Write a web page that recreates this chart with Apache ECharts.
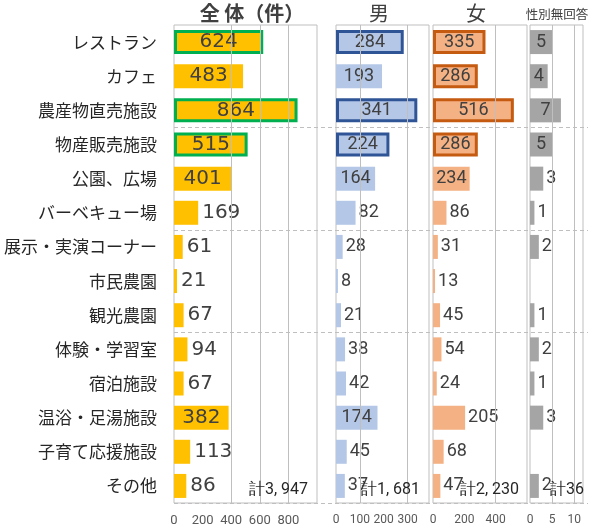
<!DOCTYPE html>
<html><head><meta charset="utf-8">
<script src="https://cdn.jsdelivr.net/npm/echarts@6/dist/echarts.min.js"></script>
<style>html,body{margin:0;padding:0;background:#fff}#c{width:600px;height:530px}</style>
</head><body><div id="c"></div>
<script>
const categories = ['レストラン','カフェ','農産物直売施設','物産販売施設','公園、広場','バーベキュー場','展示・実演コーナー','市民農園','観光農園','体験・学習室','宿泊施設','温浴・足湯施設','子育て応援施設','その他'];
const totalValues  = [624,483,864,515,401,169,61,21,67,94,67,382,113,86];
const maleValues   = [284,193,341,224,164,82,28,8,21,38,42,174,45,37];
const femaleValues = [335,286,516,286,234,86,31,13,45,54,24,205,68,47];
const noAnswerValues = [5,4,7,5,3,1,2,0,1,2,1,3,0,2];
const panelTitles = ['全 体（件）','男','女','性別無回答'];
const highlightTotal = [0,2,3];
const highlightMale = [0,2,3];
const highlightFemale = [0,1,2,3];
const gridTotal = [400,600,800];
const gridMale = [100,300];
const gridFemale = [400];
const gridNoAnswer = [5,10];
const groupBoundaries = [3,6,9];

const chart = echarts.init(document.getElementById('c'), null, {renderer:'canvas'});
const narrow = 'Roboto,"Liberation Sans",sans-serif';
const grids = [
  {left:174, top:25, width:143, height:478},
  {left:336, top:25, width:93, height:478},
  {left:433, top:25, width:94, height:478},
  {left:530, top:25, width:53, height:478},
  {left:174, top:25, width:414, height:478}
];
const axisMax = [1000, 390, 600, 12];
const axisInt = [200, 100, 200, 5];
const labelFont = [20, 18, 18, 18];
const labelFam = ['"DejaVu Sans",sans-serif', narrow, narrow, narrow];
const thresholds = [300, 150, 220, 4];
const colors = ['#FFC000','#B4C7E7','#F4B183','#A5A5A5'];
const borders = ['#00B050','#2F5597','#C55A11',null];
const highlights = [highlightTotal, highlightMale, highlightFemale, []];
const gridLines = [gridTotal, gridMale, gridFemale, gridNoAnswer];
const values = [totalValues, maleValues, femaleValues, noAnswerValues];

const xAxis = [], yAxis = [], series = [];
for (let g=0; g<4; g++) {
  xAxis.push({type:'value', gridIndex:g, min:0, max:axisMax[g], interval:axisInt[g],
    splitLine:{show:false}, axisLine:{show:false}, axisTick:{show:false},
    axisLabel:{color:'#595959', fontSize:g===0?13:12, fontFamily:narrow, margin:11,
      formatter: v => (v===axisMax[g]) ? '' : v,
      showMaxLabel: false}});
  yAxis.push({type:'category', gridIndex:g, data:categories, inverse:true,
    axisLine:{show:false}, axisTick:{show:false}, splitLine:{show:false},
    axisLabel:{show:g===0, color:'#262626', fontSize:17, margin:17,
      fontFamily:'"Noto Sans CJK JP",sans-serif'}});
  series.push({type:'bar', xAxisIndex:g, yAxisIndex:g, data:values[g], barWidth:24, barGap:'-100%',
    itemStyle:{color:'rgba(0,0,0,0)'}, silent:true, z:1,
    markLine:{silent:true, symbol:'none', label:{show:false},
      lineStyle:{color:'#BFBFBF', type:'solid', width:1},
      data: gridLines[g].map(v=>({xAxis:v}))}});
  const data = values[g].map((v,i)=>{
    const hl = highlights[g].includes(i);
    return {value:v,
      itemStyle: hl ? {borderColor:borders[g], borderWidth:3} : {borderWidth:0},
      label:{position: v>=thresholds[g] ? 'inside' : 'right', distance:g===0?4:3}};
  });
  series.push({type:'bar', xAxisIndex:g, yAxisIndex:g, data:data, barWidth:24, barGap:'-100%', z:3,
    itemStyle:{color:colors[g]},
    label:{show:true, color:'#404040', fontSize:labelFont[g], fontFamily:labelFam[g],
      formatter: p => p.value===0 ? '' : String(p.value)}});
}
xAxis.push({type:'value', gridIndex:4, show:false, min:0, max:1});
yAxis.push({type:'category', gridIndex:4, data:categories, inverse:true, axisLine:{show:false},
  axisTick:{show:false}, axisLabel:{show:false},
  splitLine:{show:true, interval:(i)=>groupBoundaries.includes(i),
    lineStyle:{color:'#BFBFBF', type:[4,3], width:1}}});
series.push({type:'bar', xAxisIndex:4, yAxisIndex:4, data:categories.map(()=>null), silent:true});

const sum = a => a.reduce((s,v)=>s+v,0);
const fmt = n => '計' + n.toLocaleString('en-US').replace(/,/g, ', ');
const totals = [sum(totalValues), sum(maleValues), sum(femaleValues), sum(noAnswerValues)];
const totalRight = [308, 420, 519, 584];
const titleCenter = [252, 379, 476, 557];
const graphic = [];
for (let g=0; g<4; g++) {
  graphic.push({type:'text', x: totalRight[g], y: 490, z:10,
    style:{text: fmt(totals[g]), fill:'#262626', fontSize:16, fontFamily:narrow,
      textAlign:'right', textVerticalAlign:'middle'}});
  graphic.push({type:'text', x: titleCenter[g], y: g===3 ? 14 : 13, z:10,
    style:{text: panelTitles[g], fill:'#404040', fontSize: g===3 ? 12.5 : 20,
      fontWeight: g===0 ? 'bold' : 'normal',
      fontFamily:'"Noto Sans CJK JP",sans-serif', textAlign:'center', textVerticalAlign:'middle'}});
}

chart.setOption({
  backgroundColor:'#fff',
  animation:false,
  grid: grids.map((gr,i)=>Object.assign({show:i<4, borderColor:'#BFBFBF', borderWidth:1, containLabel:false}, gr)),
  xAxis, yAxis, series, graphic
});
</script></body></html>
